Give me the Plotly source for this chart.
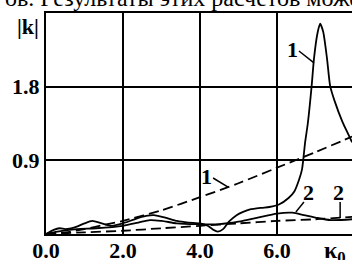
import plotly.graph_objects as go

# curve 1 (solid)
x_s1 = [0, 0.2, 0.35, 0.5, 0.65, 0.8, 1.0, 1.2, 1.45, 1.7, 2.0, 2.3, 2.6, 2.8, 3.1, 3.4, 3.7, 4.0,
        4.2, 4.35, 4.46, 4.6, 4.75, 4.95, 5.12, 5.3, 5.6, 5.8, 6.05, 6.3, 6.45, 6.57, 6.65, 6.73,
        6.8, 6.9, 6.96, 7.05, 7.12, 7.2, 7.3, 7.38, 7.5, 7.7, 7.85, 7.95]
y_s1 = [0, 0.05, 0.07, 0.06, 0.07, 0.09, 0.13, 0.16, 0.13, 0.10, 0.13, 0.18, 0.22, 0.23, 0.20, 0.16, 0.14, 0.13,
        0.10, 0.05, 0.03, 0.06, 0.15, 0.23, 0.27, 0.30, 0.32, 0.33, 0.36, 0.44, 0.52, 0.66, 0.79, 1.12,
        1.35, 1.81, 2.14, 2.45, 2.57, 2.47, 2.14, 1.81, 1.62, 1.37, 1.22, 1.12]

# curve 2 (solid)
x_s2 = [0, 0.3, 0.8, 1.3, 2.0, 2.4, 2.7, 3.0, 3.4, 3.9, 4.5, 5.0, 5.5, 6.0, 6.4, 6.7, 7.0, 7.4, 7.95]
y_s2 = [0, 0.03, 0.06, 0.07, 0.10, 0.14, 0.17, 0.16, 0.13, 0.12, 0.12, 0.15, 0.20, 0.25, 0.26, 0.23, 0.20, 0.17, 0.18]

# curve 1 (dashed)
x_d1 = [0, 0.5, 1, 1.5, 2, 3, 4, 5, 6, 7, 7.95]
y_d1 = [0, 0.02, 0.06, 0.11, 0.16, 0.29, 0.45, 0.62, 0.81, 1.0, 1.19]

# curve 2 (dashed)
x_d2 = [0, 1, 2, 3, 4, 5, 6, 7, 7.95]
y_d2 = [0, 0.02, 0.04, 0.07, 0.10, 0.13, 0.16, 0.18, 0.21]

x_ticks = [0, 2, 4, 6]
x_tick_text = ["0.0", "2.0", "4.0", "6.0"]
y_ticks = [0.9, 1.8]
y_tick_text = ["0.9", "1.8"]

FONT = "Liberation Serif"

fig = go.Figure()
line_w = 1.8
fig.add_trace(go.Scatter(x=x_d1, y=y_d1, mode="lines",
                         line=dict(color="black", width=line_w, dash="10px,5px", shape="spline", smoothing=0.8)))
fig.add_trace(go.Scatter(x=x_d2, y=y_d2, mode="lines",
                         line=dict(color="black", width=line_w, dash="10px,5px", shape="spline", smoothing=0.8)))
fig.add_trace(go.Scatter(x=x_s2, y=y_s2, mode="lines",
                         line=dict(color="black", width=line_w, shape="spline", smoothing=0.8)))
fig.add_trace(go.Scatter(x=x_s1, y=y_s1, mode="lines",
                         line=dict(color="black", width=line_w, shape="spline", smoothing=0.6)))

fig.update_layout(
    width=352, height=260,
    margin=dict(l=46, r=0, t=13, b=26),
    paper_bgcolor="white", plot_bgcolor="white",
    showlegend=False,
    font=dict(family=FONT, color="black", size=22),
)
fig.update_xaxes(range=[0, 7.948], tickvals=x_ticks, ticktext=["<b>%s</b>" % t for t in x_tick_text],
                 showgrid=True, gridcolor="black", gridwidth=2, zeroline=False, automargin=False,
                 showline=True, linecolor="black", linewidth=2, mirror=True, ticks="",
                 ticklabelstandoff=-4,
                 tickfont=dict(family=FONT, size=22, color="black"))
fig.update_yaxes(range=[0, 2.7], tickvals=y_ticks, ticktext=["<b>%s</b>" % t for t in y_tick_text],
                 showgrid=True, gridcolor="black", gridwidth=2, zeroline=False, automargin=False,
                 showline=True, linecolor="black", linewidth=2, mirror=False, ticks="",
                 tickfont=dict(family=FONT, size=22, color="black"))

# leader lines
leaders = [((6.57, 2.236), (6.96, 2.09)),
           ((4.34, 0.684), (4.73, 0.574)),
           ((6.70, 0.391), (6.49, 0.269)),
           ((7.64, 0.391), (7.64, 0.195))]
for (a, b) in leaders:
    fig.add_shape(type="line", xref="x", yref="y", x0=a[0], y0=a[1], x1=b[0], y1=b[1],
                  line=dict(color="black", width=1.5))

labels = [("1", 6.39, 2.25), ("1", 4.18, 0.70), ("2", 6.81, 0.51), ("2", 7.61, 0.51)]
for t, x, y in labels:
    fig.add_annotation(x=x, y=y, xref="x", yref="y", text="<b>%s</b>" % t, showarrow=False,
                       font=dict(family=FONT, size=22, color="black"))

fig.add_annotation(x=-0.0588, y=0.937, xref="paper", yref="paper", xanchor="center", yanchor="middle",
                   text="<b>|k|</b>", showarrow=False,
                   font=dict(family=FONT, size=22, color="black"))
fig.add_annotation(x=0.902, y=-0.005, xref="paper", yref="paper", xanchor="left", yanchor="top",
                   text="<b>κ<sub>0</sub></b>", showarrow=False,
                   font=dict(family=FONT, size=24, color="black"))
fig.add_annotation(x=-0.14, y=1.068, xref="paper", yref="paper", xanchor="left", yanchor="middle",
                   text="ов. Результаты этих расчетов може", showarrow=False,
                   font=dict(family=FONT, size=24, color="black"))

fig.write_html("out.html", config={"displayModeBar": False},
               post_script="document.body.style.margin='0';document.body.style.overflow='hidden';")
